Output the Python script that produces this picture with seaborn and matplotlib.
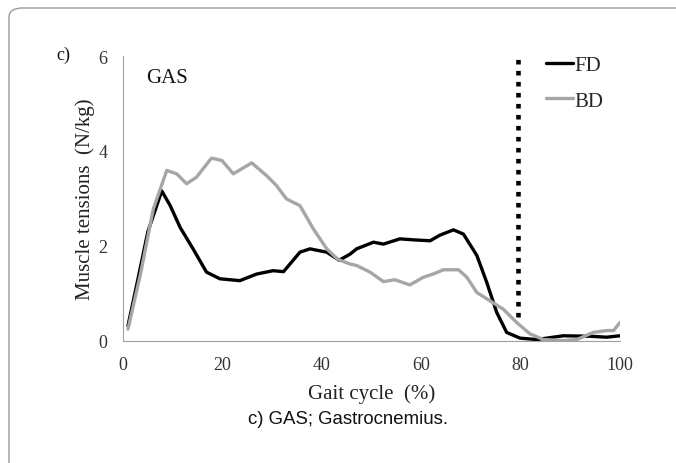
import matplotlib
matplotlib.use("Agg")
import matplotlib.pyplot as plt
import seaborn as sns
import pandas as pd
from matplotlib.patches import FancyBboxPatch

# Data
fd_x = [1, 3, 5, 7.8, 9.5, 11.5, 14.1, 16.8, 19.5, 23.5, 26.9, 30.2, 32.3, 35.6, 37.6, 41, 43.5,
        45.7, 47, 50.4, 52.4, 55.7, 58.4, 61.8, 63.8, 66.5, 68.5, 71.2, 73.2, 75.2, 77.2, 79.9,
        83.2, 88.6, 94, 97.3, 100]
fd_y = [0.32, 1.3, 2.3, 3.16, 2.85, 2.39, 1.94, 1.45, 1.31, 1.27, 1.41, 1.48, 1.46, 1.87, 1.94,
        1.87, 1.70, 1.83, 1.94, 2.08, 2.04, 2.15, 2.13, 2.11, 2.23, 2.34, 2.25, 1.80, 1.23, 0.60,
        0.18, 0.06, 0.03, 0.11, 0.10, 0.08, 0.11]
bd_x = [1, 3.5, 6.1, 8.8, 10.8, 12.8, 14.8, 17.8, 19.9, 22.2, 25.9, 28.9, 30.9, 32.9, 35.6, 38.3,
        41, 43.2, 45.7, 47, 49.7, 52.4, 54.7, 57.7, 60.4, 62.4, 64.5, 67.5, 69.2, 71.2, 73.8,
        76.5, 79.2, 81.9, 84.6, 88.6, 91.3, 94.6, 97.3, 98.7, 100]
bd_y = [0.25, 1.4, 2.78, 3.59, 3.52, 3.31, 3.45, 3.85, 3.80, 3.52, 3.75, 3.48, 3.27, 2.99, 2.85,
        2.36, 1.94, 1.72, 1.62, 1.59, 1.45, 1.25, 1.29, 1.18, 1.34, 1.41, 1.50, 1.50, 1.34, 1.02,
        0.85, 0.67, 0.39, 0.15, 0.03, 0.01, 0.03, 0.18, 0.22, 0.22, 0.39]
series_names = ["FD", "BD"]
series_colors = ["#000000", "#a6a6a6"]
stance_end = 79.5
x_ticks = [0, 20, 40, 60, 80, 100]
y_ticks = [0, 2, 4, 6]

df = pd.concat([
    pd.DataFrame({"x": fd_x, "y": fd_y, "s": "FD"}),
    pd.DataFrame({"x": bd_x, "y": bd_y, "s": "BD"}),
])

sns.set_style("white")
plt.rcParams["font.family"] = ["Liberation Serif", "DejaVu Serif"]

fig = plt.figure(figsize=(6.76, 4.64), dpi=100)
ax = fig.add_axes([123/676, 1-342/464, 497/676, 285/464])

# frame around figure
border = FancyBboxPatch((9/676, -0.2), 1.2, (464-9)/464 + 0.2,
                        boxstyle="round,pad=0,rounding_size=0.02",
                        transform=fig.transFigure, fill=False,
                        edgecolor="#9a9a9a", linewidth=1.0)
fig.patches.append(border)

sns.lineplot(data=df, x="x", y="y", hue="s", hue_order=series_names,
             palette=series_colors, linewidth=2.4, ax=ax, sort=True,
             estimator=None, legend=True)

ax.vlines(stance_end, 0.5, 6, colors="black", linewidth=3.3,
          linestyles=(0, (1, 1.4)))

ax.set_xlim(0, 100)
ax.set_ylim(0, 6)
ax.set_xticks(x_ticks)
ax.set_yticks(y_ticks)
ax.tick_params(axis="both", labelsize=13, colors="#333333", length=5,
               width=0.8, direction="out")
ax.tick_params(axis="y", pad=6)
ax.tick_params(axis="x", pad=6)
ax.tick_params(axis="both", color="#a0a0a0")
for sp in ["top", "right"]:
    ax.spines[sp].set_visible(False)
for sp in ["left", "bottom"]:
    ax.spines[sp].set_color("#a0a0a0")
    ax.spines[sp].set_linewidth(0.8)
ax.set_xlabel("Gait cycle  (%)", fontsize=15, color="#222222", labelpad=7)
ax.set_ylabel("Muscle tensions  (N/kg)", fontsize=15, color="#222222", labelpad=3)

ax.text(4.6, 5.55, "GAS", fontsize=15, va="center", ha="left", color="#111111")
fig.text(56/676, 1-55/464, "c)", fontsize=13, va="center", ha="left", color="#111111")

leg = ax.legend(loc="upper left", bbox_to_anchor=(0.835, 1.03), frameon=False,
                fontsize=15, handlelength=1.3, handletextpad=0.05,
                labelspacing=0.75, borderaxespad=0)
for line in leg.get_lines():
    line.set_linewidth(2.4)

fig.text(348/676, 1-419/464, "c) GAS; Gastrocnemius.", fontsize=13.4,
         family=["Liberation Sans", "DejaVu Sans"], ha="center", va="center",
         color="#111111")

fig.savefig("out.png", dpi=100)
